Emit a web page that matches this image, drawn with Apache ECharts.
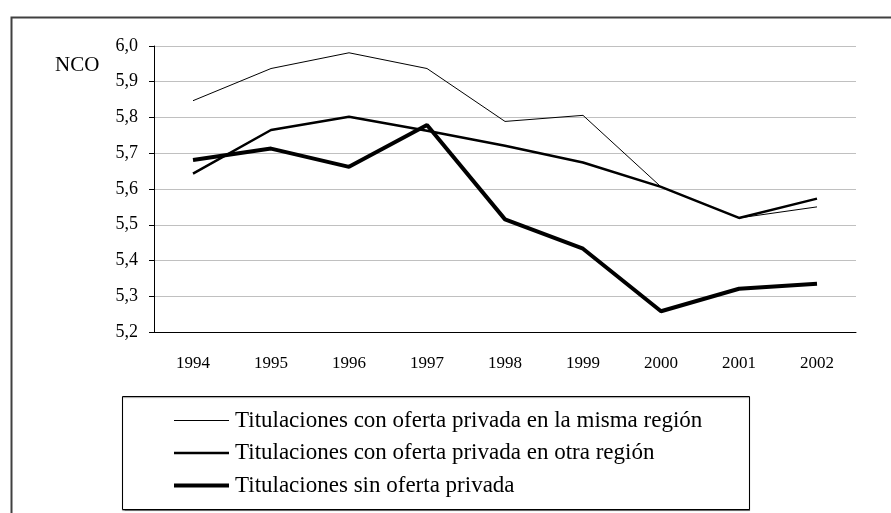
<!DOCTYPE html>
<html>
<head>
<meta charset="utf-8">
<script src="https://cdn.jsdelivr.net/npm/echarts@6/dist/echarts.min.js"></script>
<style>
  html, body { margin: 0; padding: 0; background: #fff; }
  #chart { width: 891px; height: 513px; }
</style>
</head>
<body>
<div id="chart"></div>
<script>
  // años
  var years = ['1994', '1995', '1996', '1997', '1998', '1999', '2000', '2001', '2002'];
  // NCO por grupo de titulaciones
  var mismaRegion = [5.847, 5.937, 5.981, 5.937, 5.789, 5.806, 5.606, 5.519, 5.55];
  var otraRegion = [5.643, 5.765, 5.802, 5.763, 5.721, 5.674, 5.606, 5.519, 5.573];
  var sinOferta = [5.681, 5.713, 5.662, 5.779, 5.515, 5.433, 5.258, 5.321, 5.335];
  var names = [
    'Titulaciones con oferta privada en la misma región',
    'Titulaciones con oferta privada en otra región',
    'Titulaciones sin oferta privada'
  ];
  // grosor de cada línea
  var widths = [1, 2.5, 4];

  var font = '"Liberation Serif", "Times New Roman", serif';
  var chart = echarts.init(document.getElementById('chart'));

  function serie(name, data, width) {
    return {
      name: name,
      type: 'line',
      data: data,
      symbol: 'none',
      lineStyle: { color: '#000', width: width },
      itemStyle: { color: '#000' }
    };
  }

  chart.setOption({
    animation: false,
    backgroundColor: '#fff',
    textStyle: { fontFamily: font, color: '#000' },
    grid: { left: 154, right: 35, top: 46, bottom: 181 },
    graphic: [
      // marco exterior
      {
        type: 'rect', left: 9, top: 15,
        shape: { width: 900, height: 520 },
        style: { fill: 'none', stroke: '#404040', lineWidth: 2 }
      },
      // caja de la leyenda
      {
        type: 'rect', left: 122, top: 396,
        shape: { width: 627, height: 113 },
        style: { fill: '#fff', stroke: '#000', lineWidth: 1, shadowColor: 'rgba(0,0,0,0.4)', shadowOffsetY: 1, shadowBlur: 1 },
        z: 1
      },
      {
        type: 'text', left: 55, top: 55,
        style: { text: 'NCO', font: '21px ' + font, fill: '#000' }
      }
    ],
    legend: {
      orient: 'vertical',
      left: 167,
      top: 404,
      itemWidth: 55,
      itemHeight: 14,
      itemGap: 9.5,
      z: 5,
      itemStyle: { opacity: 0 },
      textStyle: { fontFamily: font, fontSize: 23, lineHeight: 23, color: '#000', padding: [0, 0, 0, 1] },
      data: names.map(function (n, i) {
        return { name: n, lineStyle: { color: '#000', width: widths[i] } };
      })
    },
    xAxis: {
      type: 'category',
      data: years,
      boundaryGap: true,
      axisLine: { lineStyle: { color: '#000', width: 1 } },
      axisTick: { length: 6, lineStyle: { color: '#000' } },
      axisLabel: { fontFamily: font, fontSize: 17, color: '#000', margin: 23 },
      splitLine: { show: false }
    },
    yAxis: {
      type: 'value',
      min: 5.2,
      max: 6.0,
      interval: 0.1,
      axisLine: { show: true, lineStyle: { color: '#000', width: 1 } },
      axisTick: { show: true, length: 5, lineStyle: { color: '#000' } },
      axisLabel: {
        fontFamily: font, fontSize: 18, color: '#000', margin: 16,
        formatter: function (v) { return v.toFixed(1).replace('.', ','); }
      },
      splitLine: { lineStyle: { color: '#c0c0c0', width: 1 } }
    },
    series: [
      serie(names[0], mismaRegion, widths[0]),
      serie(names[1], otraRegion, widths[1]),
      serie(names[2], sinOferta, widths[2])
    ]
  });
</script>
</body>
</html>
